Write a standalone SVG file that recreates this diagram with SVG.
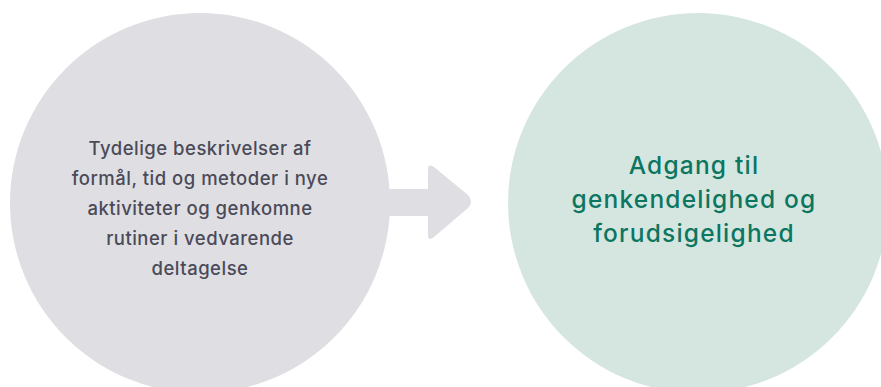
<svg xmlns="http://www.w3.org/2000/svg" width="881" height="387" viewBox="0 0 881 387">
<style>
.lbl{font-family:Inter,"Open Sans","Liberation Sans",sans-serif;font-weight:500;text-anchor:middle}
.left{fill:#4b4a58;font-size:18.5px;letter-spacing:0.5px}
.right{fill:#0c7660;font-size:24.5px;letter-spacing:1.2px}
</style>
<rect width="881" height="387" fill="#ffffff"/>
<g id="connectors">
<path d="M370 189 H428 V170 Q428 163 434 167 L468 195 Q474 202 468 208 L434 237 Q428 242 428 235 V216 H370 Z" fill="#dfdfe3"/>
</g>
<g id="node-left">
<circle cx="200" cy="203" r="190" fill="#dfdfe3"/>
<text class="lbl left" x="200" y="155">Tydelige beskrivelser af</text>
<text class="lbl left" x="200" y="185">formål, tid og metoder i nye</text>
<text class="lbl left" x="200" y="215">aktiviteter og genkomne</text>
<text class="lbl left" x="200" y="245">rutiner i vedvarende</text>
<text class="lbl left" x="200" y="275">deltagelse</text>
</g>
<g id="node-right">
<circle cx="698" cy="203" r="190" fill="#d5e6e1"/>
<text class="lbl right" x="694" y="174">Adgang til</text>
<text class="lbl right" x="694" y="208">genkendelighed og</text>
<text class="lbl right" x="694" y="242">forudsigelighed</text>
</g>
</svg>
